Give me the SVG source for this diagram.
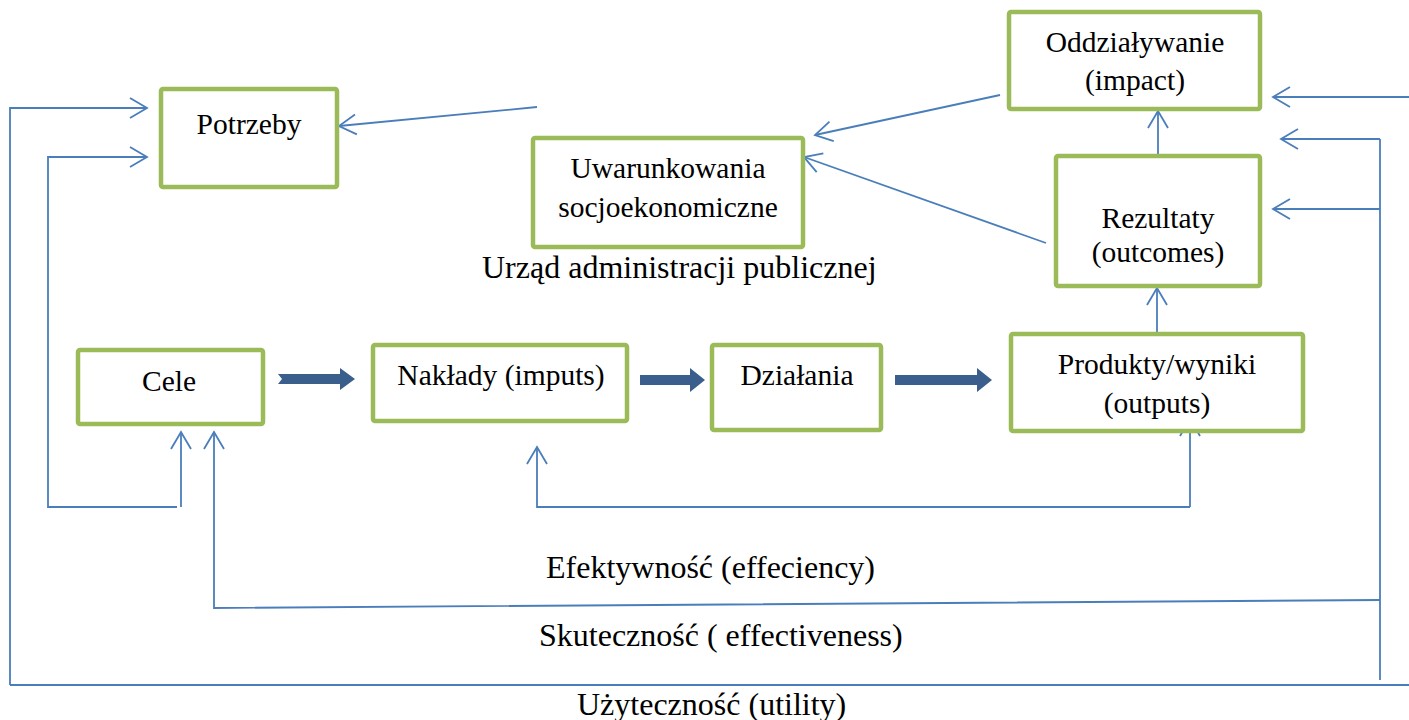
<svg xmlns="http://www.w3.org/2000/svg" width="1409" height="720" viewBox="0 0 1409 720">
  <style>
    .box { fill: #ffffff; stroke: #9BBB59; stroke-width: 4.5; }
    .lbl { font-family: "Liberation Serif", "Times New Roman", serif; font-size: 29.5px; fill: #000000; }
    .big { font-size: 32px; }
    .mid { text-anchor: middle; }
    .ln { fill: none; stroke: #4A7EBB; stroke-width: 1.8; }
    .arw { marker-end: url(#open); }
    .thick { fill: #3A5F8D; stroke: none; }
  </style>
  <defs>
    <marker id="open" markerUnits="userSpaceOnUse" markerWidth="40" markerHeight="40" refX="0" refY="0" viewBox="-20 -20 40 40" orient="auto" overflow="visible">
      <path d="M -17 -10 L 0 0 L -17 10" fill="none" stroke="#4A7EBB" stroke-width="1.8"/>
    </marker>
  </defs>
  <rect width="1409" height="720" fill="#ffffff"/>

  <!-- feedback and flow connectors -->
  <g id="connectors">
    <!-- outer utility loop -->
    <polyline class="ln" points="10,685 1409,685"/>
    <polyline class="ln arw" points="10,685 10,108 147,108"/>
    <!-- loop from Cele to Potrzeby -->
    <polyline class="ln arw" points="177,507 48,507 48,157 147,157"/>
    <polyline class="ln arw" points="181,507 181,432"/>
    <!-- effectiveness loop -->
    <polyline class="ln arw" points="1380,600 214,608 214,432"/>
    <!-- right collector -->
    <polyline class="ln" points="1380,680 1380,139"/>
    <polyline class="ln arw" points="1380,139 1281,139"/>
    <polyline class="ln arw" points="1380,209 1273,209"/>
    <polyline class="ln arw" points="1409,97 1273,97"/>
    <!-- efficiency loop -->
    <polyline class="ln arw" points="1190,507 537,507 537,447"/>
    <polyline class="ln arw" points="1190,507 1190,419"/>
    <!-- vertical chain -->
    <polyline class="ln arw" points="1157,334 1157,288"/>
    <polyline class="ln arw" points="1158,156 1158,111"/>
    <!-- links to context -->
    <polyline class="ln arw" points="537,107 339,126"/>
    <polyline class="ln arw" points="1000,95 815,135"/>
    <polyline class="ln arw" points="1046,243 804,157"/>
    <polyline class="ln arw" points="625,168 571,231"/>
    <!-- block arrows -->
    <path class="thick" d="M 278,374 L 340,374 L 340,368 L 355,379 L 340,390 L 340,384 L 278,384 L 282,379 Z"/>
    <path class="thick" d="M 640,375 L 690,375 L 690,368 L 705,380 L 690,392 L 690,385 L 640,385 Z"/>
    <path class="thick" d="M 895,375 L 977,375 L 977,368 L 992,380 L 977,392 L 977,385 L 895,385 Z"/>
  </g>

  <g id="potrzeby">
    <rect class="box" x="161" y="89" width="176" height="98" rx="2"/>
    <text class="lbl mid" x="249" y="134">Potrzeby</text>
  </g>
  <g id="uwarunkowania">
    <rect class="box" x="533" y="138" width="270" height="109" rx="2"/>
    <text class="lbl mid" x="668" y="178">Uwarunkowania</text>
    <text class="lbl mid" x="668" y="217">socjoekonomiczne</text>
  </g>
  <g id="oddzialywanie">
    <rect class="box" x="1009" y="12" width="251" height="97" rx="2"/>
    <text class="lbl mid" x="1135" y="52">Oddziaływanie</text>
    <text class="lbl mid" x="1135" y="90">(impact)</text>
  </g>
  <g id="rezultaty">
    <rect class="box" x="1056" y="156" width="204" height="130" rx="2"/>
    <text class="lbl mid" x="1158" y="228">Rezultaty</text>
    <text class="lbl mid" x="1158" y="262">(outcomes)</text>
  </g>
  <g id="cele">
    <rect class="box" x="78" y="350" width="185" height="74" rx="2"/>
    <text class="lbl mid" x="169" y="391">Cele</text>
  </g>
  <g id="naklady">
    <rect class="box" x="373" y="345" width="254" height="76" rx="2"/>
    <text class="lbl mid" x="501" y="385">Nakłady (imputs)</text>
  </g>
  <g id="dzialania">
    <rect class="box" x="712" y="345" width="169" height="85" rx="2"/>
    <text class="lbl mid" x="797" y="385">Działania</text>
  </g>
  <g id="produkty">
    <rect class="box" x="1011" y="334" width="292" height="97" rx="2"/>
    <text class="lbl mid" x="1157" y="374">Produkty/wyniki</text>
    <text class="lbl mid" x="1157" y="413">(outputs)</text>
  </g>

  <g id="labels">
    <text class="lbl big" x="482" y="278">Urząd administracji publicznej</text>
    <text class="lbl big" x="546" y="578">Efektywność (effeciency)</text>
    <text class="lbl big" x="539" y="646">Skuteczność ( effectiveness)</text>
    <text class="lbl big" x="577" y="715">Użyteczność (utility)</text>
  </g>
</svg>
